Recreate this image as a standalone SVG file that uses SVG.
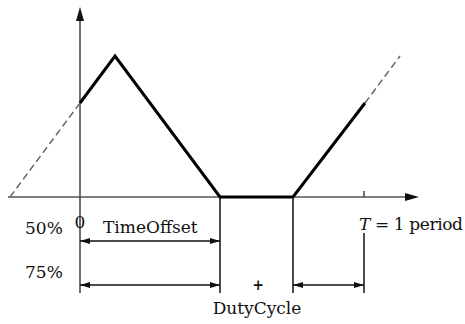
<svg xmlns="http://www.w3.org/2000/svg" width="465" height="324" viewBox="0 0 465 324">
<style>
.t{font-family:"DejaVu Serif","Liberation Serif",serif;font-size:17px;fill:#111}
.ax{stroke:#555;stroke-width:1.7;fill:none}
.wave{stroke:#000;stroke-width:3;fill:none;stroke-linejoin:miter}
.dash{stroke:#666;stroke-width:1.5;fill:none;stroke-dasharray:7 4}
.ext{stroke:#111;stroke-width:1.5;fill:none}
.dim{stroke:#111;stroke-width:1.3;fill:none;marker-start:url(#ds);marker-end:url(#de)}
</style>
<defs>
<marker id="de" viewBox="0 0 10 6" refX="10" refY="3" markerWidth="10" markerHeight="6" markerUnits="userSpaceOnUse" orient="auto"><path d="M0,0 L10,3 L0,6 Z" fill="#111"/></marker>
<marker id="ds" viewBox="0 0 10 6" refX="0" refY="3" markerWidth="10" markerHeight="6" markerUnits="userSpaceOnUse" orient="auto"><path d="M10,0 L0,3 L10,6 Z" fill="#111"/></marker>
</defs>
<g id="axes">
<line class="ax" x1="80" y1="20" x2="80" y2="293"/>
<path d="M80,7 L84,21 L76,21 Z" fill="#111"/>
<line class="ax" x1="8" y1="197" x2="406" y2="197"/>
<path d="M419,197 L405,193 L405,201 Z" fill="#111"/>
<line class="ax" x1="364" y1="191" x2="364" y2="197"/>
</g>
<g id="waveform">
<path class="dash" d="M10,197 L80,103"/>
<path class="wave" d="M80,103 L115,56 L220,197 L293,197 L365,103"/>
<path class="dash" d="M365,103 L400,56"/>
</g>
<g id="connectors">
<line class="ext" x1="220" y1="197" x2="220" y2="293"/>
<line class="ext" x1="293" y1="197" x2="293" y2="293"/>
<line class="ext" x1="364" y1="233" x2="364" y2="293"/>
<line class="dim" x1="80" y1="241" x2="220" y2="241"/>
<line class="dim" x1="80" y1="285" x2="220" y2="285"/>
<line class="dim" x1="293" y1="285" x2="364" y2="285"/>
</g>
<g id="labels">
<text class="t" x="25" y="234">50%</text>
<text class="t" x="25" y="278">75%</text>
<text class="t" x="74.5" y="228">0</text>
<text class="t" x="103" y="233">TimeOffset</text>
<text class="t" x="258" y="290" text-anchor="middle" style="font-size:14px;font-weight:bold">+</text>
<text class="t" x="257" y="314" text-anchor="middle">DutyCycle</text>
<text class="t" x="359" y="230" textLength="104" lengthAdjust="spacing"><tspan font-style="italic">T</tspan> = 1 period</text>
</g>
</svg>
